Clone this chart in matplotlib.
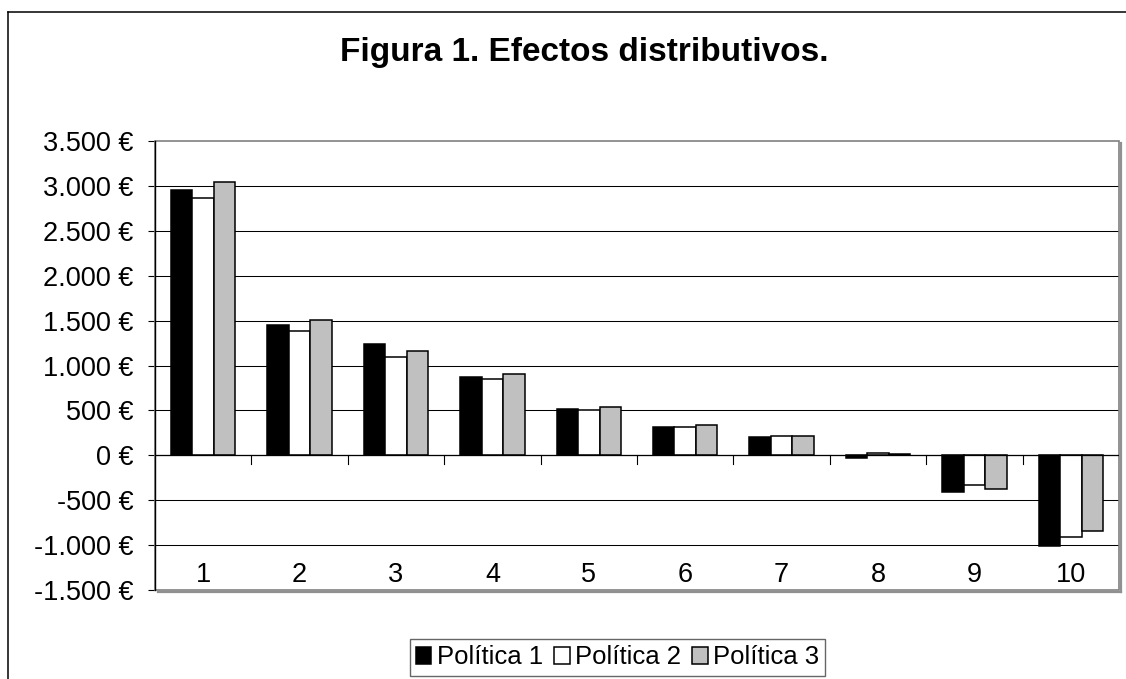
import matplotlib
matplotlib.use("Agg")
import matplotlib.pyplot as plt
from matplotlib.lines import Line2D
from matplotlib.patches import Rectangle
import numpy as np

plt.rcParams['font.family'] = ['Liberation Sans', 'DejaVu Sans']

# Decile categories and distributive effect per policy (euros)
categories = ["1", "2", "3", "4", "5", "6", "7", "8", "9", "10"]
politica_1 = [2950, 1450, 1240, 870, 520, 315, 200, -30, -410, -1010]
politica_2 = [2860, 1380, 1090, 845, 505, 310, 215, 25, -335, -905]
politica_3 = [3040, 1510, 1165, 900, 540, 335, 210, 10, -375, -845]
series_names = ["Política 1", "Política 2", "Política 3"]
y_ticks = [-1500, -1000, -500, 0, 500, 1000, 1500, 2000, 2500, 3000, 3500]
y_tick_labels = [f"{v:,.0f}".replace(",", ".") + " €" for v in y_ticks]

W, H = 1126, 679
fig = plt.figure(figsize=(W / 100, H / 100), dpi=100)
fig.patch.set_facecolor("white")

# Outer chart frame (left and top edges)
fig.add_artist(Line2D([8 / W, 8 / W], [0, 1 - 11.5 / H], color="black", lw=1.1,
                      transform=fig.transFigure))
fig.add_artist(Line2D([8 / W, 1], [1 - 11.5 / H, 1 - 11.5 / H], color="black", lw=1.1,
                      transform=fig.transFigure))

left, right, bottom, top = 155 / W, 1119 / W, 1 - 590 / H, 1 - 141 / H
ax = fig.add_axes([left, bottom, right - left, top - bottom])

x = np.arange(len(categories))
bw = 0.223
colors = ["black", "white", "#C0C0C0"]
for i, (vals, c) in enumerate(zip([politica_1, politica_2, politica_3], colors)):
    ax.bar(x + (i - 1) * bw, vals, width=bw, color=c, edgecolor="black",
           linewidth=1.1, label=series_names[i], zorder=3)

ax.set_xlim(-0.5, len(categories) - 0.5)
ax.set_ylim(-1500, 3500)

# Horizontal gridlines
for v in y_ticks[1:-1]:
    ax.axhline(v, color="black", lw=0.75, zorder=1)

# Spines: left axis black, others replaced by the plot-area border
for s in ["top", "right", "bottom"]:
    ax.spines[s].set_visible(False)
ax.spines["left"].set_color("black")
ax.spines["left"].set_linewidth(1.0)
ax.spines["left"].set_zorder(4)

ax.add_patch(Rectangle((0, 0), 1, 1, transform=ax.transAxes, fill=False,
                       edgecolor="#808080", lw=1.2, zorder=2, clip_on=False))
# Shadow on right and bottom of the plot area
ax.add_artist(Line2D([1.0025, 1.0025], [-0.004, 0.995], transform=ax.transAxes,
                     color="#909090", lw=1.6, clip_on=False))
ax.add_artist(Line2D([0.003, 1.0025], [-0.004, -0.004], transform=ax.transAxes,
                     color="#909090", lw=1.6, clip_on=False))

ax.set_yticks(y_ticks)
ax.set_yticklabels(y_tick_labels, fontsize=19.5)
ax.tick_params(axis="y", direction="out", length=5, width=0.8, pad=10.5, colors="black")

# Category boundary ticks on the zero line
ax.set_xticks([])
for b in np.arange(0.5, len(categories) - 0.5, 1.0):
    ax.plot([b, b], [0, -95], color="black", lw=0.8, zorder=4, clip_on=False)
ax.axhline(0, color="black", lw=0.9, zorder=4)

# Category labels near the bottom of the plot area
for xi, lab in zip(x, categories):
    ax.text(xi, 0.034, lab, transform=ax.get_xaxis_transform(), ha="center",
            va="center", fontsize=19.5)

fig.text(584 / W, 1 - 52 / H, "Figura 1. Efectos distributivos.", ha="center",
         va="center", fontsize=24, fontweight="bold")

leg = fig.legend(loc="center", bbox_to_anchor=(617.5 / W, 1 - 657.5 / H), ncol=3,
                 fontsize=18.5, frameon=True, fancybox=False, borderpad=0.25,
                 handlelength=0.6, handleheight=0.6, handletextpad=0.2,
                 columnspacing=0.45, borderaxespad=0)
leg.get_frame().set_edgecolor("#404040")
leg.get_frame().set_linewidth(1.0)

fig.savefig("out.png", dpi=100, facecolor="white")
